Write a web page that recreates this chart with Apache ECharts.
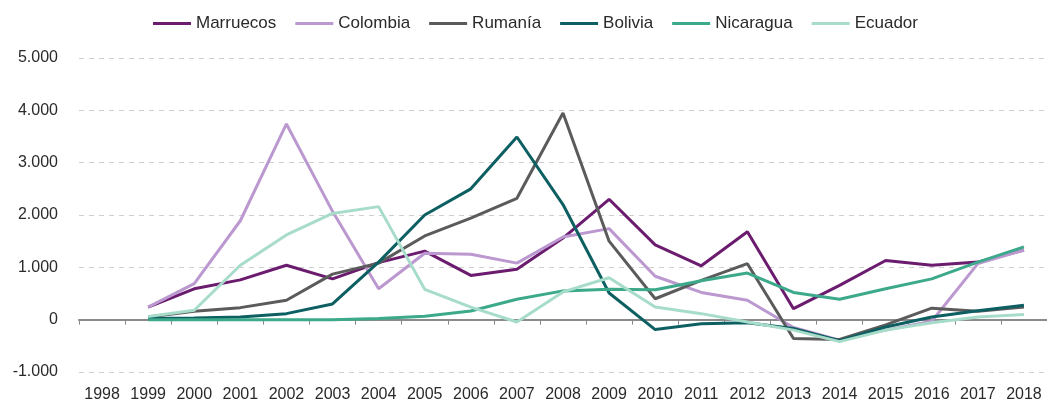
<!DOCTYPE html>
<html>
<head>
<meta charset="utf-8">
<script src="https://cdn.jsdelivr.net/npm/echarts@6/dist/echarts.min.js"></script>
<style>
html,body{margin:0;padding:0;background:#fff;}
#chart{width:1047px;height:403px;}
</style>
</head>
<body>
<div id="chart"></div>
<script>
const years = ['1998','1999','2000','2001','2002','2003','2004','2005','2006','2007','2008','2009','2010','2011','2012','2013','2014','2015','2016','2017','2018'];
const seriesNames = ['Marruecos','Colombia','Rumanía','Bolivia','Nicaragua','Ecuador'];
const marruecos = [null,240,590,760,1040,780,1090,1310,845,965,1560,2300,1430,1030,1680,210,655,1130,1040,1100,1330];
const colombia  = [null,240,690,1890,3740,2070,590,1270,1250,1080,1580,1740,830,520,370,-150,-390,-200,-30,1070,1330];
const rumania   = [null,50,160,230,370,870,1080,1600,1940,2320,3950,1500,400,750,1070,-360,-380,-100,220,160,240];
const bolivia   = [null,20,30,50,115,300,1100,2000,2500,3490,2200,510,-190,-80,-60,-170,-400,-140,50,170,275];
const nicaragua = [null,0,0,0,0,0,20,65,165,390,550,580,570,745,890,520,390,590,780,1100,1390];
const ecuador   = [null,60,180,1040,1620,2030,2160,580,240,-45,530,800,240,115,-45,-200,-420,-200,-60,50,100];
const yTicks = [-1000,0,1000,2000,3000,4000,5000];
const colors = ['#6b1c6f','#bb98cf','#5b5b5b','#0d5f62','#3ca98b','#a8dcca'];

const dataSets = [marruecos, colombia, rumania, bolivia, nicaragua, ecuador];
const fmt = v => {
  const s = Math.abs(v).toString().replace(/\B(?=(\d{3})+(?!\d))/g, '.');
  return (v < 0 ? '-' : '') + s;
};
const textColor = '#2a2a2a';
const font = 'Liberation Sans, Arial, sans-serif';

const chart = echarts.init(document.getElementById('chart'), null, {renderer:'canvas'});
chart.setOption({
  animation: false,
  color: colors,
  legend: {
    top: 10,
    left: 148,
    icon: 'rect',
    itemWidth: 38,
    itemHeight: 3,
    itemGap: 19,
    textStyle: {fontSize: 17, color: textColor, fontFamily: font},
    data: seriesNames
  },
  grid: {left: 79, right: 0, top: 58, bottom: 28, containLabel: false},
  xAxis: [
    {
      type: 'category',
      data: years,
      position: 'bottom',
      boundaryGap: true,
      axisLine: {show: false, onZero: false},
      axisTick: {show: false},
      axisLabel: {fontSize: 16, color: textColor, fontFamily: font, margin: 15, interval: 0}
    },
    {
      type: 'category',
      data: years,
      position: 'bottom',
      boundaryGap: true,
      axisLine: {show: true, onZero: true, onZeroAxisIndex: 0, lineStyle: {color: '#8a8a8a', width: 2}},
      axisTick: {show: true, length: 5, lineStyle: {color: '#8a8a8a', width: 1}},
      axisLabel: {show: false}
    }
  ],
  yAxis: {
    type: 'value',
    min: yTicks[0],
    max: yTicks[yTicks.length - 1],
    interval: 1000,
    axisLine: {show: false},
    axisTick: {show: false},
    splitLine: {show: true, lineStyle: {color: '#cfcfcf', type: [5, 5], width: 1}},
    axisLabel: {fontSize: 16, color: textColor, fontFamily: font, margin: 21, formatter: fmt}
  },
  series: seriesNames.map((n, i) => ({
    name: n,
    type: 'line',
    xAxisIndex: 0,
    data: dataSets[i],
    symbol: 'none',
    lineStyle: {width: 3, color: colors[i]},
    itemStyle: {color: colors[i]},
    connectNulls: false
  }))
});
</script>
</body>
</html>
